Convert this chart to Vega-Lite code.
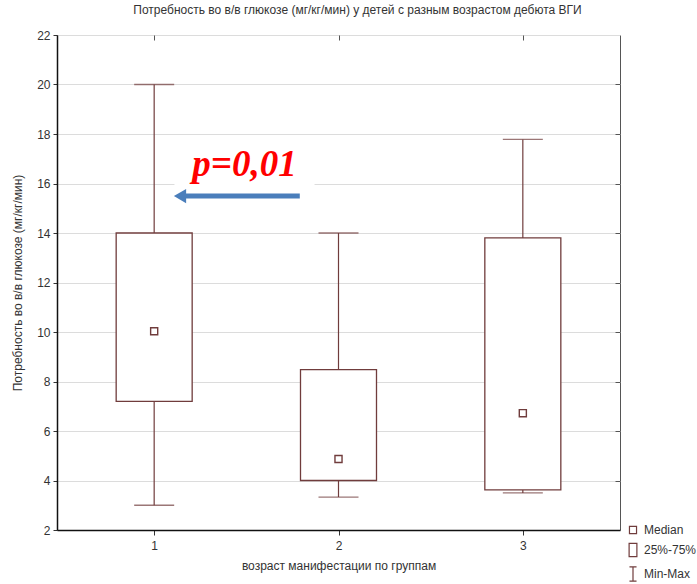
{
  "$schema": "https://vega.github.io/schema/vega-lite/v6.json",
  "width": 563,
  "height": 495,
  "autosize": {"type": "none"},
  "padding": {"left": 57, "top": 35, "right": 77, "bottom": 54},
  "background": "white",
  "title": {
    "text": "Потребность во в/в глюкозе (мг/кг/мин) у детей с разным возрастом дебюта ВГИ",
    "font": "Liberation Sans",
    "fontSize": 12,
    "fontWeight": "normal",
    "color": "#333333",
    "anchor": "middle",
    "dx": 19,
    "offset": 12
  },
  "config": {
    "view": {"stroke": "#555555", "strokeWidth": 1},
    "axis": {"labelFont": "Liberation Sans", "titleFont": "Liberation Sans", "labelColor": "#333333", "titleColor": "#333333", "titleFontWeight": "normal"}
  },
  "datasets": {
    "boxes": [
      {"group": 1, "min": 3.0, "q1": 7.2, "median": 10.03, "q3": 14.0, "max": 20.0},
      {"group": 2, "min": 3.33, "q1": 4.0, "median": 4.87, "q3": 8.48, "max": 14.0},
      {"group": 3, "min": 3.5, "q1": 3.62, "median": 6.72, "q3": 13.8, "max": 17.78}
    ],
    "note": [{"x": 1.49, "y": 16.75, "label": "p=0,01", "x1": 1.17, "x2": 1.79, "ya": 15.49, "xh": 1.14, "bx1": 1.11, "bx2": 1.87, "by1": 15.1, "by2": 17.6}]
  },
  "resolve": {"axis": {"x": "independent", "y": "independent"}},
  "layer": [
    {
      "data": {"name": "note"},
      "mark": {"type": "rect", "fill": "white"},
      "encoding": {
        "x": {"field": "bx1", "type": "quantitative", "scale": {"domain": [0.5, 3.5], "nice": false, "zero": false}, "axis": null},
        "x2": {"field": "bx2"},
        "y": {"field": "by1", "type": "quantitative", "scale": {"domain": [2, 22], "nice": false, "zero": false}, "axis": null},
        "y2": {"field": "by2"}
      }
    },
    {
      "data": {"name": "boxes"},
      "mark": {"type": "rule", "color": "#703c3c", "strokeWidth": 1.2},
      "encoding": {
        "x": {"field": "group", "type": "quantitative",
          "axis": {"values": [1, 2, 3], "grid": false, "title": "возраст манифестации по группам", "labelFontSize": 12, "titleFontSize": 12, "labelPadding": 5, "tickSize": 5, "tickColor": "#333", "domainColor": "#111", "domainWidth": 1.5, "titlePadding": 9}},
        "y": {"field": "min", "type": "quantitative",
          "axis": {"values": [2, 4, 6, 8, 10, 12, 14, 16, 18, 20, 22], "grid": true, "gridColor": "#dcdcdc", "title": "Потребность во в/в глюкозе (мг/кг/мин)", "labelFontSize": 12, "titleFontSize": 12, "tickSize": 4, "tickColor": "#333", "domainColor": "#111", "domainWidth": 1.5, "labelPadding": 3, "titlePadding": 12}},
        "y2": {"field": "max"}
      }
    },
    {
      "data": {"name": "boxes"},
      "mark": {"type": "tick", "orient": "horizontal", "color": "#703c3c", "size": 40, "thickness": 1.3},
      "encoding": {
        "x": {"field": "group", "type": "quantitative", "axis": {"orient": "top", "values": [1, 2, 3], "labels": false, "domain": false, "grid": false, "title": null, "tickSize": -5, "tickColor": "#555"}},
        "y": {"field": "min", "type": "quantitative", "axis": {"orient": "right", "values": [4, 6, 8, 10, 12, 14, 16, 18, 20], "labels": false, "domain": false, "grid": false, "title": null, "tickSize": -5, "tickColor": "#555"}}
      }
    },
    {
      "data": {"name": "boxes"},
      "mark": {"type": "tick", "orient": "horizontal", "color": "#703c3c", "size": 40, "thickness": 1.3},
      "encoding": {
        "x": {"field": "group", "type": "quantitative", "axis": null},
        "y": {"field": "max", "type": "quantitative", "axis": null}
      }
    },
    {
      "data": {"name": "boxes"},
      "mark": {"type": "bar", "width": 76, "fill": "white", "stroke": "#703c3c", "strokeWidth": 1.3},
      "encoding": {
        "x": {"field": "group", "type": "quantitative", "axis": null},
        "y": {"field": "q1", "type": "quantitative", "axis": null},
        "y2": {"field": "q3"}
      }
    },
    {
      "data": {"name": "boxes"},
      "mark": {"type": "point", "filled": false, "size": 200, "strokeWidth": 1.4, "opacity": 1, "color": "#703c3c"},
      "encoding": {
        "x": {"field": "group", "type": "quantitative", "axis": null},
        "y": {"field": "median", "type": "quantitative", "axis": null},
        "shape": {
          "datum": "Median",
          "scale": {
            "domain": ["Median", "25%-75%", "Min-Max"],
            "range": ["M-0.5,-0.5H0.5V0.5H-0.5Z", "M-0.55,-0.95H0.55V0.95H-0.55Z", "M-0.5,-1H0.5M0,-1V1M-0.5,1H0.5"]
          },
          "legend": {
            "title": null,
            "orient": "none",
            "legendX": 568,
            "legendY": 487,
            "symbolSize": 200,
            "symbolStrokeColor": "#703c3c",
            "symbolFillColor": "white",
            "symbolStrokeWidth": 1.2,
            "labelFont": "Liberation Sans",
            "labelFontSize": 12,
            "labelColor": "#333333",
            "rowPadding": 4,
            "labelOffset": 3
          }
        }
      }
    },
    {
      "data": {"name": "note"},
      "mark": {"type": "rule", "color": "#4a7ebb", "strokeWidth": 5},
      "encoding": {
        "x": {"field": "x1", "type": "quantitative", "axis": null},
        "x2": {"field": "x2"},
        "y": {"field": "ya", "type": "quantitative", "axis": null}
      }
    },
    {
      "data": {"name": "note"},
      "mark": {"type": "point", "shape": "triangle-left", "filled": true, "color": "#4a7ebb", "size": 200, "opacity": 1},
      "encoding": {
        "x": {"field": "xh", "type": "quantitative", "axis": null},
        "y": {"field": "ya", "type": "quantitative", "axis": null}
      }
    },
    {
      "data": {"name": "note"},
      "mark": {"type": "text", "font": "Liberation Serif", "fontSize": 37, "fontWeight": "bold", "fontStyle": "italic", "color": "#ff0000", "baseline": "middle", "align": "center"},
      "encoding": {
        "x": {"field": "x", "type": "quantitative", "axis": null},
        "y": {"field": "y", "type": "quantitative", "axis": null},
        "text": {"field": "label"}
      }
    }
  ]
}
